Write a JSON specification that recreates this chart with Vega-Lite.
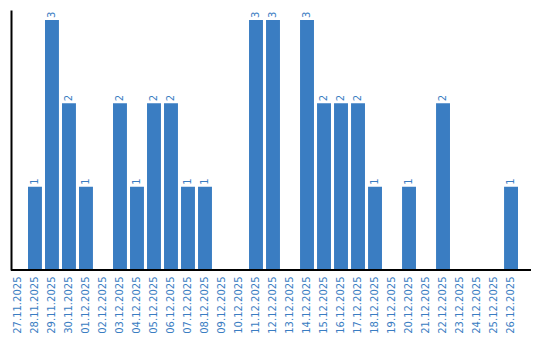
{
  "$schema": "https://vega.github.io/schema/vega-lite/v6.json",
  "width": 520,
  "height": 260,
  "padding": {"left": 10, "top": 10, "right": 10, "bottom": 0},
  "autosize": {"type": "pad"},
  "config": {"view": {"stroke": null}, "font": "DejaVu Sans"},
  "data": {"values": [
    {"d": "27.11.2025", "v": 0}, {"d": "28.11.2025", "v": 1}, {"d": "29.11.2025", "v": 3},
    {"d": "30.11.2025", "v": 2}, {"d": "01.12.2025", "v": 1}, {"d": "02.12.2025", "v": 0},
    {"d": "03.12.2025", "v": 2}, {"d": "04.12.2025", "v": 1}, {"d": "05.12.2025", "v": 2},
    {"d": "06.12.2025", "v": 2}, {"d": "07.12.2025", "v": 1}, {"d": "08.12.2025", "v": 1},
    {"d": "09.12.2025", "v": 0}, {"d": "10.12.2025", "v": 0}, {"d": "11.12.2025", "v": 3},
    {"d": "12.12.2025", "v": 3}, {"d": "13.12.2025", "v": 0}, {"d": "14.12.2025", "v": 3},
    {"d": "15.12.2025", "v": 2}, {"d": "16.12.2025", "v": 2}, {"d": "17.12.2025", "v": 2},
    {"d": "18.12.2025", "v": 1}, {"d": "19.12.2025", "v": 0}, {"d": "20.12.2025", "v": 1},
    {"d": "21.12.2025", "v": 0}, {"d": "22.12.2025", "v": 2}, {"d": "23.12.2025", "v": 0},
    {"d": "24.12.2025", "v": 0}, {"d": "25.12.2025", "v": 0}, {"d": "26.12.2025", "v": 1}
  ]},
  "encoding": {
    "x": {"field": "d", "type": "nominal", "sort": null,
      "scale": {"paddingInner": 0.18, "paddingOuter": 0, "range": [0, 507]},
      "axis": {"title": null, "labelAngle": -90, "labelFontSize": 10, "labelColor": "#3a7dc2",
        "ticks": false, "labelPadding": 6, "domain": false}},
    "y": {"field": "v", "type": "quantitative",
      "scale": {"domain": [0, 3.12], "nice": false},
      "axis": {"title": null, "labels": false, "ticks": false, "grid": false,
        "domainColor": "#000000", "domainWidth": 2}}
  },
  "layer": [
    {"mark": {"type": "bar", "color": "#3a7dc2"}},
    {"transform": [{"filter": "datum.v > 0"}],
     "mark": {"type": "text", "angle": -90, "align": "left", "baseline": "middle", "dx": 2,
       "fontSize": 10, "color": "#3a7dc2"},
     "encoding": {"text": {"field": "v", "type": "quantitative"}}},
    {"mark": {"type": "rule", "color": "#000000", "strokeWidth": 2},
     "encoding": {"x": null, "y": {"datum": 0}}}
  ]
}
